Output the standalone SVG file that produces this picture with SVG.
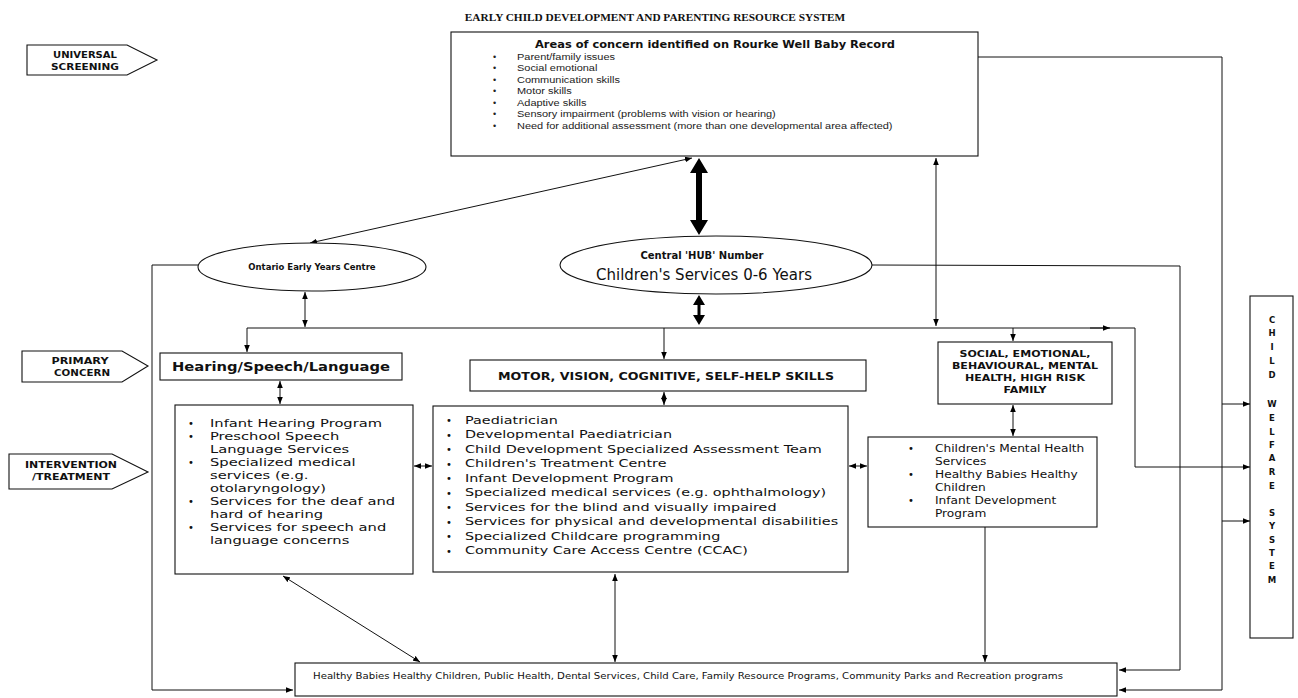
<svg xmlns="http://www.w3.org/2000/svg" width="1298" height="698" viewBox="0 0 1298 698">
  <defs>
    <marker id="ah" viewBox="0 0 10 10" refX="10" refY="5" markerWidth="7" markerHeight="7" orient="auto-start-reverse">
      <path d="M0,1 L10,5 L0,9 z" fill="#000"/>
    </marker>
    <style>
      .box { fill: #fff; stroke: #111; stroke-width: 1.1; }
      .ln { fill: none; stroke: #111; stroke-width: 1; }
      .title { font-family: "Liberation Serif", serif; font-weight: bold; font-size: 11.3px; fill: #111; }
      .hd { font-family: "DejaVu Sans", sans-serif; font-weight: bold; fill: #111; }
      .tx { font-family: "DejaVu Sans", sans-serif; fill: #111; }
      .sm { font-family: "Liberation Sans", sans-serif; font-size: 9px; fill: #222; }
      .lab { font-family: "DejaVu Sans", sans-serif; font-weight: bold; font-size: 9.5px; fill: #111; text-anchor: middle; }
      .bul { font-family: "DejaVu Sans", sans-serif; font-size: 10px; fill: #111; }
    </style>
  </defs>
  <rect width="1298" height="698" fill="#fff"/>

  <text class="title" x="655" y="21" text-anchor="middle">EARLY CHILD DEVELOPMENT AND PARENTING RESOURCE SYSTEM</text>

  <!-- stage labels -->
  <g id="label-universal">
    <polygon class="box" points="27,45 127,45 157,60 127,75 27,75"/>
    <text class="lab" x="85" y="58" textLength="64" lengthAdjust="spacingAndGlyphs">UNIVERSAL</text>
    <text class="lab" x="85" y="70" textLength="68" lengthAdjust="spacingAndGlyphs">SCREENING</text>
  </g>
  <g id="label-primary">
    <polygon class="box" points="22,351 122,351 148,366 122,382 22,382"/>
    <text class="lab" x="80" y="364" textLength="57" lengthAdjust="spacingAndGlyphs">PRIMARY</text>
    <text class="lab" x="82" y="376" textLength="56" lengthAdjust="spacingAndGlyphs">CONCERN</text>
  </g>
  <g id="label-intervention">
    <polygon class="box" points="9,454 112,454 148,472 112,489 9,489"/>
    <text class="lab" x="71" y="468" textLength="92" lengthAdjust="spacingAndGlyphs">INTERVENTION</text>
    <text class="lab" x="71" y="480" textLength="78" lengthAdjust="spacingAndGlyphs">/TREATMENT</text>
  </g>

  <!-- connectors -->
  <g id="connectors">
    <!-- screening record to community services and child welfare -->
    <polyline class="ln" points="978,57 1222,57 1222,690 1119,690" marker-end="url(#ah)"/>
    <line class="ln" x1="1222" y1="404" x2="1250" y2="404" marker-end="url(#ah)"/>
    <line class="ln" x1="1222" y1="521" x2="1250" y2="521" marker-end="url(#ah)"/>
    <!-- hub to community services -->
    <polyline class="ln" points="872,265 1180,266 1180,670 1119,670" marker-end="url(#ah)"/>
    <!-- branch line to primary concerns -->
    <polyline class="ln" points="247,328 1135,328 1135,467 1250,467" marker-end="url(#ah)"/>
    <line class="ln" x1="1090" y1="328" x2="1110" y2="328" marker-end="url(#ah)"/>
    <line class="ln" x1="247" y1="328" x2="247" y2="352" marker-end="url(#ah)"/>
    <line class="ln" x1="664" y1="328" x2="664" y2="359" marker-end="url(#ah)"/>
    <line class="ln" x1="1013" y1="328" x2="1013" y2="341" marker-end="url(#ah)"/>
    <!-- Ontario Early Years Centre links -->
    <polyline class="ln" points="198,265 152,265 152,690 293,690" marker-end="url(#ah)"/>
    <line class="ln" x1="310" y1="243" x2="692" y2="158" marker-start="url(#ah)" marker-end="url(#ah)"/>
    <line class="ln" x1="305" y1="292" x2="305" y2="327" marker-start="url(#ah)" marker-end="url(#ah)"/>
    <!-- record to branch -->
    <line class="ln" x1="936" y1="158" x2="936" y2="326" marker-start="url(#ah)" marker-end="url(#ah)"/>
    <!-- thick hub arrows -->
    <polygon fill="#000" points="699,158 708,173 702,173 702,220 708,220 699,235 690,220 696,220 696,173 690,173"/>
    <polygon fill="#000" points="699,295 705,305 700.5,305 700.5,315 705,315 699,325 693,315 697.5,315 697.5,305 693,305"/>
    <!-- header to list links -->
    <line class="ln" x1="280" y1="381" x2="280" y2="404" marker-start="url(#ah)" marker-end="url(#ah)"/>
    <line class="ln" x1="664" y1="392" x2="664" y2="405" marker-start="url(#ah)" marker-end="url(#ah)"/>
    <line class="ln" x1="1013" y1="405" x2="1013" y2="436" marker-start="url(#ah)" marker-end="url(#ah)"/>
    <!-- between lists -->
    <line class="ln" x1="414" y1="466" x2="432" y2="466" marker-start="url(#ah)" marker-end="url(#ah)"/>
    <line class="ln" x1="849" y1="466" x2="867" y2="466" marker-start="url(#ah)" marker-end="url(#ah)"/>
    <!-- lists to community services -->
    <line class="ln" x1="283" y1="576" x2="420" y2="662" marker-start="url(#ah)" marker-end="url(#ah)"/>
    <line class="ln" x1="615" y1="574" x2="615" y2="662" marker-start="url(#ah)" marker-end="url(#ah)"/>
    <line class="ln" x1="985" y1="518" x2="985" y2="662" marker-start="url(#ah)" marker-end="url(#ah)"/>
  </g>

  <g id="rourke-record">
    <rect class="box" x="451" y="32" width="527" height="124"/>
    <text class="hd" x="715" y="48" font-size="11" text-anchor="middle" textLength="360" lengthAdjust="spacingAndGlyphs">Areas of concern identified on Rourke Well Baby Record</text>
    <g class="sm">
      <text x="493" y="60">•</text>
      <text x="493" y="71">•</text>
      <text x="493" y="83">•</text>
      <text x="493" y="94">•</text>
      <text x="493" y="106">•</text>
      <text x="493" y="117">•</text>
      <text x="493" y="129">•</text>
    </g>
    <g class="sm" transform="matrix(1.22,0,0,1,-113.74,0)">
      <text x="517" y="60">Parent/family issues</text>
      <text x="517" y="71">Social emotional</text>
      <text x="517" y="83">Communication skills</text>
      <text x="517" y="94">Motor skills</text>
      <text x="517" y="106">Adaptive skills</text>
      <text x="517" y="117">Sensory impairment (problems with vision or hearing)</text>
      <text x="517" y="129">Need for additional assessment (more than one developmental area affected)</text>
    </g>
  </g>

  <g id="ontario-early-years">
    <ellipse class="box" cx="312" cy="267" rx="114" ry="24"/>
    <text class="hd" x="312" y="270" font-size="8.5" text-anchor="middle">Ontario Early Years Centre</text>
  </g>

  <g id="central-hub">
    <ellipse class="box" cx="716" cy="265" rx="156" ry="29"/>
    <text class="hd" x="702" y="259" font-size="10" text-anchor="middle">Central 'HUB' Number</text>
    <text class="tx" x="704" y="280" font-size="15" text-anchor="middle">Children's Services 0-6 Years</text>
  </g>

  <g id="hearing">
    <rect class="box" x="160" y="353" width="242" height="27"/>
    <text class="hd" x="172" y="371" font-size="12" textLength="218" lengthAdjust="spacingAndGlyphs">Hearing/Speech/Language</text>
  </g>

  <g id="motor">
    <rect class="box" x="470" y="360" width="396" height="31"/>
    <text class="hd" x="498" y="380" font-size="11" textLength="336" lengthAdjust="spacingAndGlyphs">MOTOR, VISION, COGNITIVE, SELF-HELP SKILLS</text>
  </g>

  <g id="social">
    <rect class="box" x="938" y="342" width="174" height="62"/>
    <g class="hd" font-size="8.5" text-anchor="middle" transform="matrix(1.3,0,0,1,-307.5,0)">
      <text x="1025" y="357">SOCIAL, EMOTIONAL,</text>
      <text x="1025" y="369">BEHAVIOURAL, MENTAL</text>
      <text x="1025" y="381">HEALTH, HIGH RISK</text>
      <text x="1025" y="393">FAMILY</text>
    </g>
  </g>

  <g id="hearing-services">
    <rect class="box" x="175" y="405" width="238" height="169"/>
    <g class="bul">
      <text x="188" y="427">•</text>
      <text x="188" y="440">•</text>
      <text x="188" y="466">•</text>
      <text x="188" y="505">•</text>
      <text x="188" y="531">•</text>
    </g>
    <g class="tx" font-size="10.5" transform="matrix(1.4,0,0,1,-84,0)">
      <text x="210" y="427">Infant Hearing Program</text>
      <text x="210" y="440">Preschool Speech</text>
      <text x="210" y="453">Language Services</text>
      <text x="210" y="466">Specialized medical</text>
      <text x="210" y="479">services (e.g.</text>
      <text x="210" y="492">otolaryngology)</text>
      <text x="210" y="505">Services for the deaf and</text>
      <text x="210" y="518">hard of hearing</text>
      <text x="210" y="531">Services for speech and</text>
      <text x="210" y="544">language concerns</text>
    </g>
  </g>

  <g id="motor-services">
    <rect class="box" x="433" y="406" width="415" height="166"/>
    <g class="bul">
      <text x="446" y="424">•</text>
      <text x="446" y="438.5">•</text>
      <text x="446" y="453">•</text>
      <text x="446" y="467.5">•</text>
      <text x="446" y="482">•</text>
      <text x="446" y="496.5">•</text>
      <text x="446" y="511">•</text>
      <text x="446" y="525.5">•</text>
      <text x="446" y="540">•</text>
      <text x="446" y="554.5">•</text>
    </g>
    <g class="tx" font-size="10.5" transform="matrix(1.37,0,0,1,-172.05,0)">
      <text x="465" y="424">Paediatrician</text>
      <text x="465" y="438.5">Developmental Paediatrician</text>
      <text x="465" y="453">Child Development Specialized Assessment Team</text>
      <text x="465" y="467.5">Children's Treatment Centre</text>
      <text x="465" y="482">Infant Development Program</text>
      <text x="465" y="496.5">Specialized medical services (e.g. ophthalmology)</text>
      <text x="465" y="511">Services for the blind and visually impaired</text>
      <text x="465" y="525.5">Services for physical and developmental disabilities</text>
      <text x="465" y="540">Specialized Childcare programming</text>
      <text x="465" y="554.5">Community Care Access Centre (CCAC)</text>
    </g>
  </g>

  <g id="social-services">
    <rect class="box" x="868" y="437" width="229" height="90"/>
    <g class="bul">
      <text x="908" y="452">•</text>
      <text x="908" y="478">•</text>
      <text x="908" y="504">•</text>
    </g>
    <g class="tx" font-size="10.5" transform="matrix(1.16,0,0,1,-149.6,0)">
      <text x="935" y="452">Children's Mental Health</text>
      <text x="935" y="465">Services</text>
      <text x="935" y="478">Healthy Babies Healthy</text>
      <text x="935" y="491">Children</text>
      <text x="935" y="504">Infant Development</text>
      <text x="935" y="517">Program</text>
    </g>
  </g>

  <g id="community-services">
    <rect class="box" x="295" y="663" width="822" height="33"/>
    <text class="tx" x="313" y="679" font-size="8.5" textLength="750" lengthAdjust="spacingAndGlyphs">Healthy Babies Healthy Children, Public Health, Dental Services, Child Care, Family Resource Programs, Community Parks and Recreation programs</text>
  </g>

  <g id="child-welfare">
    <rect class="box" x="1250" y="296" width="43" height="342"/>
    <g class="hd" font-size="8.5" text-anchor="middle">
      <text x="1272" y="323">C</text>
      <text x="1272" y="336">H</text>
      <text x="1272" y="350">I</text>
      <text x="1272" y="364">L</text>
      <text x="1272" y="378">D</text>
      <text x="1272" y="407">W</text>
      <text x="1272" y="421">E</text>
      <text x="1272" y="435">L</text>
      <text x="1272" y="448">F</text>
      <text x="1272" y="461">A</text>
      <text x="1272" y="475">R</text>
      <text x="1272" y="489">E</text>
      <text x="1272" y="516">S</text>
      <text x="1272" y="529">Y</text>
      <text x="1272" y="543">S</text>
      <text x="1272" y="556">T</text>
      <text x="1272" y="569">E</text>
      <text x="1272" y="583">M</text>
    </g>
  </g>
</svg>
